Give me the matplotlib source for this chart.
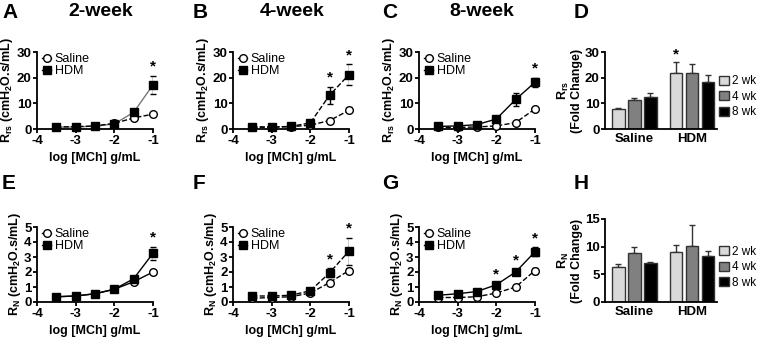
import matplotlib
matplotlib.use('Agg')
import matplotlib.pyplot as plt
import numpy as np

plt.rcParams['font.family'] = ['Liberation Sans', 'DejaVu Sans']
plt.rcParams['axes.unicode_minus'] = False

# dose axis (log [MCh] g/mL)
dose = [-3.5, -3.0, -2.5, -2.0, -1.5, -1.0]

# Rrs curves (cmH2O.s/mL)
rrs_sal_2 = [0.8, 0.9, 1.2, 2.2, 4.3, 5.8]
rrs_sal_2e = [0.2, 0.2, 0.2, 0.3, 0.5, 0.6]
rrs_hdm_2 = [0.7, 0.8, 1.1, 2.0, 6.5, 17.2]
rrs_hdm_2e = [0.2, 0.2, 0.2, 0.3, 1.0, 3.5]
rrs_sal_4 = [0.7, 0.7, 0.9, 1.5, 3.3, 7.3]
rrs_sal_4e = [0.2, 0.2, 0.2, 0.3, 0.5, 0.8]
rrs_hdm_4 = [0.8, 0.8, 1.0, 2.4, 13.2, 21.2]
rrs_hdm_4e = [0.2, 0.2, 0.2, 0.5, 3.3, 4.0]
rrs_sal_8 = [0.6, 0.6, 0.8, 1.2, 2.5, 7.8]
rrs_sal_8e = [0.2, 0.2, 0.2, 0.3, 0.4, 0.8]
rrs_hdm_8 = [1.0, 1.2, 1.7, 3.9, 11.5, 18.2]
rrs_hdm_8e = [0.2, 0.2, 0.3, 0.5, 2.5, 1.8]

# RN curves (cmH2O.s/mL)
rn_sal_2 = [0.35, 0.4, 0.55, 0.85, 1.35, 2.0]
rn_sal_2e = [0.05, 0.05, 0.05, 0.08, 0.1, 0.12]
rn_hdm_2 = [0.35, 0.4, 0.55, 0.85, 1.55, 3.25]
rn_hdm_2e = [0.05, 0.05, 0.05, 0.08, 0.12, 0.45]
rn_sal_4 = [0.25, 0.3, 0.35, 0.6, 1.3, 2.1]
rn_sal_4e = [0.05, 0.05, 0.05, 0.08, 0.12, 0.15]
rn_hdm_4 = [0.4, 0.4, 0.45, 0.75, 1.95, 3.4]
rn_hdm_4e = [0.05, 0.05, 0.05, 0.08, 0.3, 0.9]
rn_sal_8 = [0.3, 0.3, 0.35, 0.6, 1.0, 2.1]
rn_sal_8e = [0.05, 0.05, 0.05, 0.08, 0.12, 0.2]
rn_hdm_8 = [0.45, 0.55, 0.7, 1.15, 2.0, 3.35]
rn_hdm_8e = [0.05, 0.05, 0.08, 0.1, 0.15, 0.3]

# fold change bars
groups = ['Saline', 'HDM']
weeks = ['2 wk', '4 wk', '8 wk']
bar_colors = ['#d9d9d9', '#808080', '#000000']
rrs_fold_sal = [7.8, 11.2, 12.4]
rrs_fold_sal_e = [0.5, 0.8, 1.8]
rrs_fold_hdm = [21.8, 21.8, 18.5]
rrs_fold_hdm_e = [4.4, 3.6, 2.6]
rn_fold_sal = [6.3, 8.9, 7.0]
rn_fold_sal_e = [0.5, 1.0, 0.3]
rn_fold_hdm = [9.1, 10.1, 8.4]
rn_fold_hdm_e = [1.2, 3.8, 0.8]

W, H = 760, 338
fig = plt.figure(figsize=(W/100, H/100), dpi=100)

def ax_px(l, r, t, b):
    return fig.add_axes([l/W, 1-b/H, (r-l)/W, (b-t)/H])

def style(ax):
    for s in ['top', 'right']:
        ax.spines[s].set_visible(False)
    for s in ['left', 'bottom']:
        ax.spines[s].set_linewidth(1.3)
    ax.tick_params(width=1.3, length=3, labelsize=9.5, pad=1)
    for lab in ax.get_xticklabels() + ax.get_yticklabels():
        lab.set_fontweight('bold')

def curve(ax, sal, sale, hdm, hdme, sal_ls, hdm_ls, hdm_col, ymax, ylab, stars):
    ax.errorbar(dose, hdm, yerr=hdme, color='k', ls='none', capsize=2.5, elinewidth=1, capthick=1, zorder=2)
    ax.errorbar(dose, sal, yerr=sale, color='k', ls='none', capsize=2.5, elinewidth=1, capthick=1, zorder=2)
    ax.plot(dose, hdm, ls=hdm_ls, color=hdm_col, lw=1, zorder=3)
    ax.plot(dose, sal, ls=sal_ls, color='k', lw=1, zorder=3)
    ax.plot(dose, sal, 'o', mfc='white', mec='k', ms=5.5, mew=1, zorder=4)
    ax.plot(dose, hdm, 's', color='k', ms=5.5, zorder=4)
    h1, = ax.plot([], [], marker='o', mfc='white', mec='k', color='k', lw=1, ms=5.5)
    h2, = ax.plot([], [], marker='s', color='k', lw=1, ms=5.5)
    ax.legend([h1, h2], ['Saline', 'HDM'], loc='upper left', bbox_to_anchor=(-0.03, 1.1),
              frameon=False, handlelength=0.7, handletextpad=0.3, labelspacing=0.0,
              borderpad=0.2, fontsize=9)
    ax.set_xlim(-4, -1)
    ax.set_ylim(0, ymax)
    ax.set_xticks([-4, -3, -2, -1])
    ax.set_yticks(np.linspace(0, ymax, 4 if ymax == 30 else 6))
    ax.set_xlabel('log [MCh] g/mL', fontsize=9, fontweight='bold', labelpad=4)
    ax.set_ylabel(ylab, fontsize=9, fontweight='bold', labelpad=1)
    for i in stars:
        top = hdm[i] + hdme[i]
        ax.text(dose[i], top + ymax*0.03, '*', ha='center', va='bottom', fontsize=11, fontweight='bold')
    for ln in ax.lines:
        ln.set_clip_on(False)
    style(ax)

def bars(ax, sal, sale, hdm, hdme, ymax, yticks, ylab, stars):
    xs = [0, 1, 2, 3.6, 4.6, 5.6]
    vals = sal + hdm
    errs = sale + hdme
    cols = bar_colors + bar_colors
    for i in range(6):
        ax.bar(xs[i], vals[i], width=0.78, color=cols[i], edgecolor='#333333', lw=1, zorder=2)
        ax.errorbar(xs[i], vals[i], yerr=[[0], [errs[i]]], color='#333333', capsize=2.5, elinewidth=1, capthick=1, zorder=1)
    for i in stars:
        ax.text(xs[i], vals[i] + errs[i] + ymax*0.01, '*', ha='center', va='bottom', fontsize=11, fontweight='bold')
    ax.set_xlim(-0.84, 6.16)
    ax.set_ylim(0, ymax)
    ax.set_yticks(yticks)
    ax.set_xticks([1, 4.6])
    ax.set_xticklabels(groups, fontsize=9.5, fontweight='bold')
    ax.set_ylabel(ylab, fontsize=9, fontweight='bold', labelpad=1, linespacing=1.0)
    hs = [plt.Rectangle((0, 0), 1, 1, fc=c, ec='#333333', lw=1) for c in bar_colors]
    ax.legend(hs, weeks, loc='center left', bbox_to_anchor=(1.02, 0.42), frameon=False,
              handlelength=0.8, handleheight=0.8, handletextpad=0.3, labelspacing=0.3,
              borderpad=0.0, borderaxespad=0.0, fontsize=8.5)
    style(ax)
    ax.tick_params(axis='x', length=0, pad=3)

rrs_lab = r'R$_{\mathregular{rs}}$ (cmH$_{\mathregular{2}}$O.s/mL)'
rn_lab = r'R$_{\mathregular{N}}$ (cmH$_{\mathregular{2}}$O.s/mL)'

axA = ax_px(37, 153, 52, 129)
curve(axA, rrs_sal_2, rrs_sal_2e, rrs_hdm_2, rrs_hdm_2e, '--', '-', '#777777', 30, rrs_lab, [5])
axB = ax_px(233, 349, 52, 129)
curve(axB, rrs_sal_4, rrs_sal_4e, rrs_hdm_4, rrs_hdm_4e, '--', '--', 'k', 30, rrs_lab, [4, 5])
axC = ax_px(419, 535, 52, 129)
curve(axC, rrs_sal_8, rrs_sal_8e, rrs_hdm_8, rrs_hdm_8e, '--', '-', 'k', 30, rrs_lab, [5])
axD = ax_px(605, 717, 52, 129)
bars(axD, rrs_fold_sal, rrs_fold_sal_e, rrs_fold_hdm, rrs_fold_hdm_e, 30, [0, 10, 20, 30],
     'R$_{\\mathregular{rs}}$\n(Fold Change)', [3])

axE = ax_px(37, 153, 227, 302)
curve(axE, rn_sal_2, rn_sal_2e, rn_hdm_2, rn_hdm_2e, '-', '-', 'k', 5, rn_lab, [5])
axF = ax_px(233, 349, 227, 302)
curve(axF, rn_sal_4, rn_sal_4e, rn_hdm_4, rn_hdm_4e, '--', '--', 'k', 5, rn_lab, [4, 5])
axG = ax_px(419, 535, 227, 302)
curve(axG, rn_sal_8, rn_sal_8e, rn_hdm_8, rn_hdm_8e, '--', '-', 'k', 5, rn_lab, [3, 4, 5])
axH = ax_px(605, 717, 219, 302)
bars(axH, rn_fold_sal, rn_fold_sal_e, rn_fold_hdm, rn_fold_hdm_e, 15, [0, 5, 10, 15],
     'R$_{\\mathregular{N}}$\n(Fold Change)', [])

# panel letters and titles
for lab, x, y in [('A', 2, 3), ('B', 193, 3), ('C', 382, 3), ('D', 574, 3),
                  ('E', 2, 174), ('F', 193, 174), ('G', 382, 174), ('H', 574, 174)]:
    fig.text(x/W, 1-y/H, lab, fontsize=15, fontweight='bold', va='top', ha='left')
for t, x in [('2-week', 101), ('4-week', 292), ('8-week', 482)]:
    fig.text(x/W, 1-3/H, t, fontsize=14, fontweight='bold', va='top', ha='center')

fig.savefig('out.png', dpi=100)
